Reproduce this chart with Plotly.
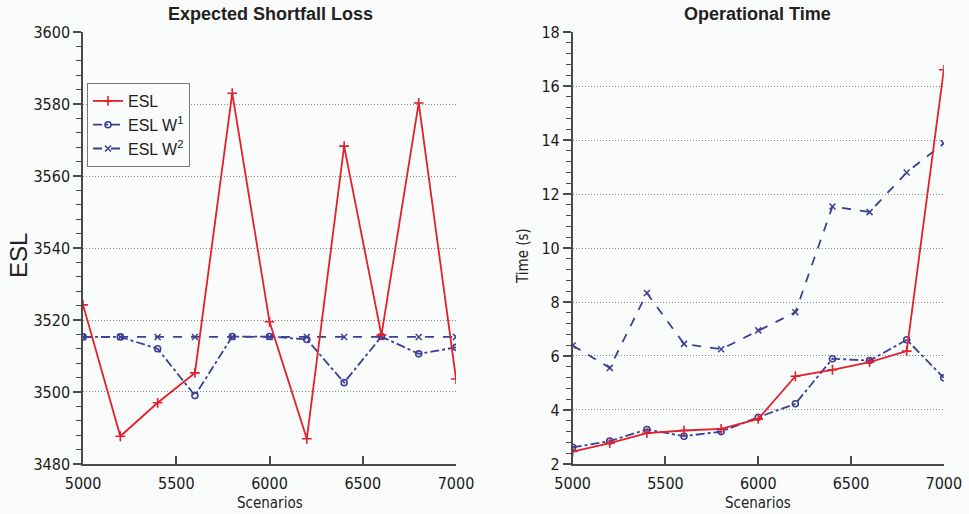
import plotly.graph_objects as go

# Scenario counts shared by both panels
scenarios = [5000, 5200, 5400, 5600, 5800, 6000, 6200, 6400, 6600, 6800, 7000]

# Expected shortfall loss per method
esl = [3524.2, 3487.7, 3497.0, 3505.3, 3583.0, 3519.5, 3487.0, 3568.3, 3515.8, 3580.3, 3503.6]
esl_w1 = [3515.3, 3515.3, 3512.0, 3499.0, 3515.4, 3515.4, 3514.6, 3502.6, 3515.4, 3510.6, 3512.4]
esl_w2 = [3515.3, 3515.3, 3515.3, 3515.3, 3515.3, 3515.3, 3515.3, 3515.3, 3515.3, 3515.3, 3515.3]

# Operational time (s) per method
time_esl = [2.46, 2.77, 3.14, 3.24, 3.30, 3.67, 5.25, 5.49, 5.77, 6.18, 16.6]
time_w1 = [2.62, 2.85, 3.28, 3.03, 3.20, 3.73, 4.23, 5.90, 5.83, 6.60, 5.19]
time_w2 = [6.39, 5.56, 8.33, 6.45, 6.25, 6.95, 7.62, 11.54, 11.33, 12.80, 13.88]

series_names = ["ESL", "ESL W<sup>1</sup>", "ESL W<sup>2</sup>"]

RED = "#e3202b"
BLUE = "#3c3f94"
AXIS = "#4a4a4a"
BG = "#fafbfb"
TICK_FONT = dict(family="DejaVu Sans Condensed, Liberation Sans Narrow, Arial", size=16, color="#1a1a1a")

fig = go.Figure()

def add_panel(xa, ya, ys, show):
    styles = [
        dict(line=dict(color=RED, width=1.8, dash="solid"),
             marker=dict(symbol="cross-thin", size=7, line=dict(color=RED, width=1.6))),
        dict(line=dict(color=BLUE, width=1.8, dash="dashdot"),
             marker=dict(symbol="circle-open", size=6, color=BLUE, line=dict(color=BLUE, width=1.6))),
        dict(line=dict(color=BLUE, width=1.8, dash="dash"),
             marker=dict(symbol="x-thin", size=6, line=dict(color=BLUE, width=1.5))),
    ]
    # draw W2, W1, then ESL so the solid red line stays on top
    for i in [2, 1, 0]:
        fig.add_trace(go.Scatter(
            x=scenarios, y=ys[i], mode="lines+markers", name=series_names[i],
            xaxis=xa, yaxis=ya, showlegend=show, legendrank=i + 1, **styles[i]))

add_panel("x", "y", [esl, esl_w1, esl_w2], True)
add_panel("x2", "y2", [time_esl, time_w1, time_w2], False)

xaxis_common = dict(
    range=[5000, 7000], tickvals=[5000, 5500, 6000, 6500, 7000],
    showline=True, linecolor=AXIS, linewidth=1.5, ticks="inside", ticklen=8,
    tickwidth=1.5, tickcolor=AXIS, showgrid=False, zeroline=False,
    tickfont=TICK_FONT, automargin=False, ticklabelstandoff=4,
)
yaxis_common = dict(
    showline=True, linecolor=AXIS, linewidth=1.5, ticks="outside", ticklen=8,
    tickwidth=1.5, tickcolor=AXIS, showgrid=True, gridcolor="#8a8a8a",
    griddash="1px,2px", gridwidth=1, zeroline=False, tickfont=TICK_FONT,
    automargin=False,
)

fig.update_layout(
    width=969, height=514,
    margin=dict(l=0, r=0, t=0, b=0),
    paper_bgcolor=BG, plot_bgcolor=BG,
    font=dict(family="Liberation Sans, Arial", color="#222"),
    xaxis=dict(domain=[0.0857, 0.4706], anchor="y", **xaxis_common),
    yaxis=dict(domain=[0.0973, 0.9377], anchor="x", range=[3480, 3600], dtick=20,
               minor=dict(ticks="outside", dtick=4, ticklen=5, tickcolor=AXIS, tickwidth=1.2, showgrid=False),
               **yaxis_common),
    xaxis2=dict(domain=[0.591, 0.974], anchor="y2", **xaxis_common),
    yaxis2=dict(domain=[0.0973, 0.9377], anchor="x2", range=[2, 18], dtick=2,
                minor=dict(ticks="outside", dtick=0.4, ticklen=5, tickcolor=AXIS, tickwidth=1.2, showgrid=False),
                **yaxis_common),
    legend=dict(
        x=0.0898, y=0.8385, xanchor="left", yanchor="top",
        bgcolor=BG, bordercolor="#777", borderwidth=1,
        font=dict(family="Liberation Sans, Arial", size=16, color="#222"),
        tracegroupgap=2, itemwidth=30,
    ),
    showlegend=True,
)

label_font = dict(family="DejaVu Sans Condensed, Liberation Sans Narrow, Arial", size=15, color="#222")
title_font = dict(family="Liberation Sans, Arial", size=18, color="#222")
annotations = [
    dict(text="<b>Expected Shortfall Loss</b>", x=270, y=500, font=title_font),
    dict(text="<b>Operational Time</b>", x=757, y=500, font=title_font),
    dict(text="Scenarios", x=270, y=11, font=label_font),
    dict(text="Scenarios", x=758, y=11, font=label_font),
    dict(text="ESL", x=18, y=258, font=dict(family="Liberation Sans, Arial", size=24, color="#222"), textangle=-90),
    dict(text="Time (s)", x=523, y=258, font=label_font, textangle=-90),
]
for a in annotations:
    fig.add_annotation(xref="paper", yref="paper", x=a["x"] / 969, y=a["y"] / 514,
                       text=a["text"], showarrow=False, font=a["font"],
                       textangle=a.get("textangle", 0), xanchor="center", yanchor="middle")

fig.write_html("out.html")
